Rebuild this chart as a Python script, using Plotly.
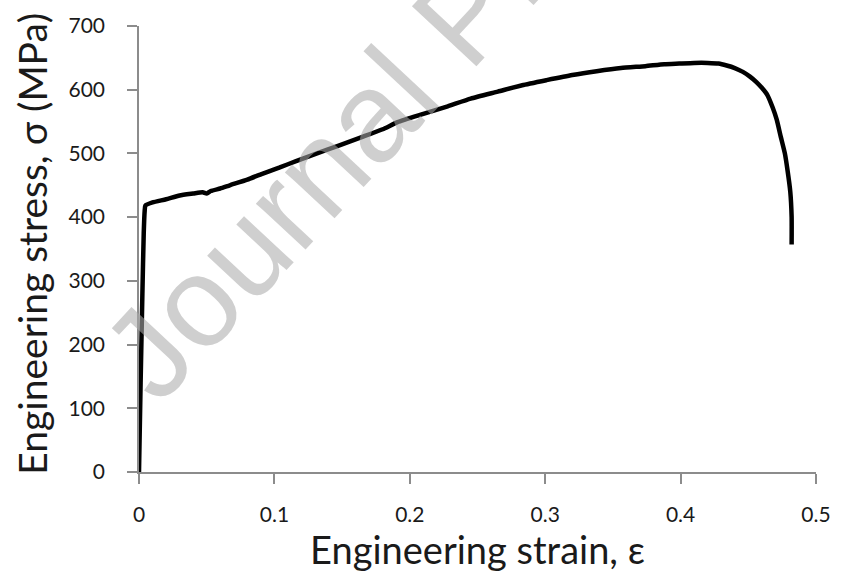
import plotly.graph_objects as go

strain = [0.0, 0.0012, 0.0025, 0.0035, 0.0042, 0.0047, 0.01, 0.02, 0.03, 0.04, 0.047, 0.05,
          0.053, 0.06, 0.067, 0.08, 0.091, 0.104, 0.116, 0.13, 0.147, 0.165, 0.18, 0.191,
          0.21, 0.228, 0.245, 0.265, 0.283, 0.301, 0.32, 0.338, 0.356, 0.374, 0.388, 0.399,
          0.41, 0.42, 0.428, 0.434, 0.44, 0.446, 0.451, 0.456, 0.46, 0.464, 0.468, 0.471,
          0.474, 0.477, 0.479, 0.481, 0.482, 0.482]
stress = [0, 140, 280, 375, 410, 418, 423, 428, 434, 437, 439, 437,
          441, 445, 450, 459, 468, 478, 488, 499, 512, 526, 538, 549,
          562, 574, 586, 597, 607, 615, 623, 629, 634, 637, 640, 641,
          642, 642, 641, 638, 634, 628, 621, 612, 603, 592, 572, 553,
          526, 500, 473, 440, 400, 357]

x_ticks = [0, 0.1, 0.2, 0.3, 0.4, 0.5]
x_labels = ["0", "0.1", "0.2", "0.3", "0.4", "0.5"]
y_ticks = [0, 100, 200, 300, 400, 500, 600, 700]

font_main = "Lato"
axis_grey = "#8c8c8c"

fig = go.Figure()
fig.add_trace(go.Scatter(x=strain, y=stress, mode="lines",
                         line=dict(color="black", width=4.5, shape="spline", smoothing=0.5),
                         hoverinfo="skip", showlegend=False))

fig.update_layout(
    width=843, height=587,
    margin=dict(l=139, r=21, t=20, b=115),
    paper_bgcolor="white", plot_bgcolor="white",
    font=dict(family=font_main, color="#1a1a1a"),
    xaxis=dict(range=[0, 0.5], tickvals=x_ticks, ticktext=x_labels,
               showgrid=False, zeroline=False, showline=True, linecolor=axis_grey,
               linewidth=1.5, ticks="outside", ticklen=10, tickcolor=axis_grey,
               tickwidth=1.5, tickfont=dict(size=21, family=font_main),
               ticklabelstandoff=13,
               title=dict(text="Engineering strain, ε", font=dict(size=38, family=font_main),
                          standoff=10)),
    yaxis=dict(range=[0, 700], tickvals=y_ticks,
               showgrid=False, zeroline=False, showline=True, linecolor=axis_grey,
               linewidth=1.5, ticks="outside", ticklen=10, tickcolor=axis_grey,
               tickwidth=1.5, tickfont=dict(size=21, family=font_main),
               ticklabelstandoff=18),
)

fig.add_annotation(text="Engineering stress, σ (MPa)", xref="paper", yref="paper",
                   x=-0.158, y=0.512, xanchor="center", yanchor="middle",
                   textangle=-90, showarrow=False,
                   font=dict(family=font_main, size=39, color="#1a1a1a"))

fig.add_annotation(text="Journal Pre-proof", xref="paper", yref="paper",
                   x=0.48, y=1.025, xanchor="center", yanchor="middle",
                   textangle=-47, showarrow=False,
                   font=dict(family="Liberation Sans", size=128, color="rgba(170,170,170,0.57)"))

fig.write_html("out.html")
